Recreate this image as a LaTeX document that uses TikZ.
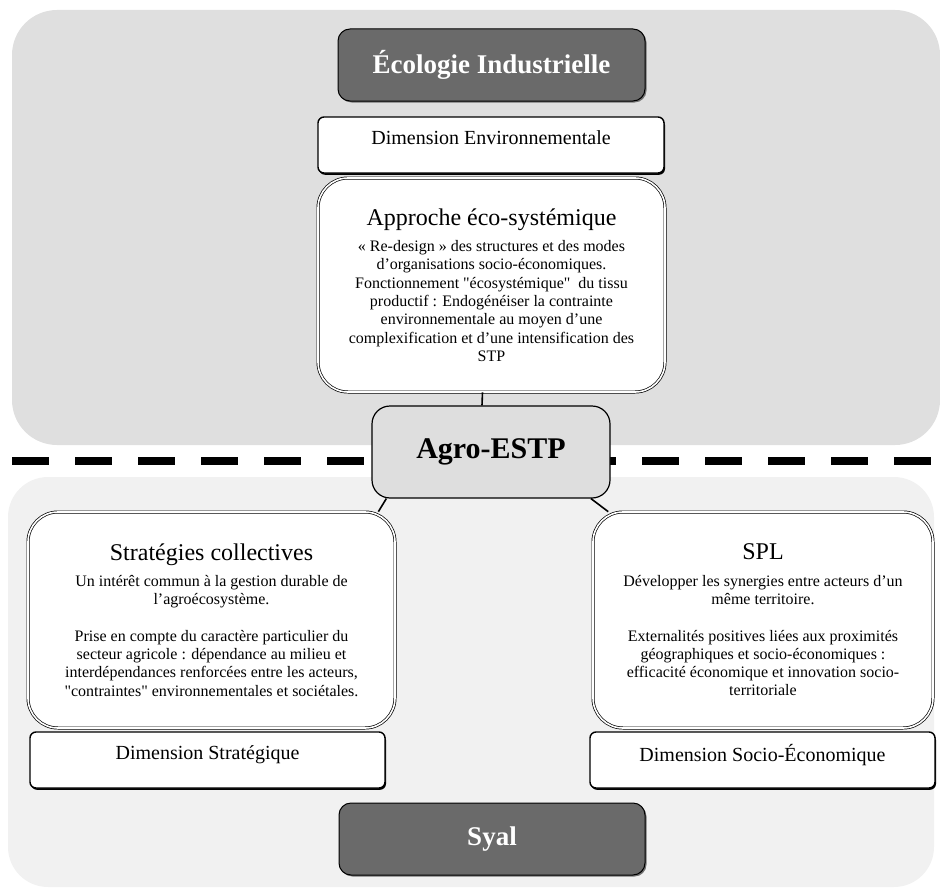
\documentclass[tikz,border=0pt]{standalone}
\usepackage{fontspec}
\setmainfont{Liberation Serif}
\usetikzlibrary{shadows}
\definecolor{zonehaut}{HTML}{DFDFDF}
\definecolor{zonebas}{HTML}{F1F1F1}
\definecolor{grisfonce}{HTML}{6A6A6A}
\definecolor{grisagro}{HTML}{DEDEDE}
\newcommand{\titrefont}{\fontsize{24}{28}\selectfont}
\newcommand{\corpsfont}{\fontsize{16}{18.3}\selectfont}
\newcommand{\dq}{\textquotedbl}
\tikzset{
  pole/.style={draw=black, line width=1pt, fill=grisfonce, rounded corners=12pt,
    text=white, font=\fontsize{27}{30}\selectfont\bfseries,
    minimum width=307pt, minimum height=72pt,
    drop shadow={shadow xshift=1.5pt, shadow yshift=-1.5pt, fill=black!55, opacity=1}},
  dimension/.style={draw=black, line width=1.4pt, fill=white, rounded corners=6pt,
    font=\fontsize{20}{24}\selectfont, minimum height=56pt, text depth=14pt,
    drop shadow={shadow xshift=1pt, shadow yshift=-1.8pt, fill=black, opacity=1}},
  approche/.style={draw=black, double=white, double distance=1.6pt, line width=0.7pt,
    fill=white, rounded corners=30pt, align=center, font=\corpsfont},
  centre/.style={draw=black, line width=1.2pt, fill=grisagro, rounded corners=18pt,
    font=\fontsize{30}{34}\selectfont\bfseries, minimum width=238pt, minimum height=92pt}
}
\begin{document}
\begin{tikzpicture}[x=1pt, y=-1pt]
      \useasboundingbox (0,0) rectangle (940,891);
      % zones de fond
      \fill[zonehaut, rounded corners=45pt] (12,10) rectangle (940,445);
      \fill[zonebas, rounded corners=40pt] (8,477) rectangle (934,887);
      \draw[line width=7.5pt, dash pattern=on 37pt off 26pt] (12,461) -- (940,461);
      % pole haut
      \node[pole] (ecologie) at (491.5,65) {Écologie Industrielle};
      \node[dimension, minimum width=346pt] (dimenv) at (491,145) {Dimension Environnementale};
      \node[approche, minimum width=347pt, minimum height=214pt] (approche) at (491.5,285)
        {{\titrefont Approche éco-systémique}\\[8pt]
         « Re-design » des structures et des modes\\
         d’organisations socio-économiques.\\
         Fonctionnement \dq écosystémique\dq~ du tissu\\
         productif : Endogénéiser la contrainte\\
         environnementale au moyen d’une\\
         complexification et d’une intensification des\\
         STP};
      % centre
      \node[centre] (agro) at (491,452) {Agro-ESTP};
      % pole bas
      \node[approche, minimum width=367pt, minimum height=216pt] (strategies) at (211.5,620)
        {{\titrefont Stratégies collectives}\\[8pt]
         Un intérêt commun à la gestion durable de\\
         l’agroécosystème.\\[18.3pt]
         Prise en compte du caractère particulier du\\
         secteur agricole : dépendance au milieu et\\
         interdépendances renforcées entre les acteurs,\\
         \dq contraintes\dq{} environnementales et sociétales.};
      \node[approche, minimum width=340pt, minimum height=216pt] (spl) at (763,620)
        {{\titrefont SPL}\\[8pt]
         Développer les synergies entre acteurs d’un\\
         même territoire.\\[18.3pt]
         Externalités positives liées aux proximités\\
         géographiques et socio-économiques :\\
         efficacité économique et innovation socio-\\
         territoriale};
      \node[dimension, minimum width=355pt] (dimstrat) at (207.5,760) {Dimension Stratégique};
      \node[dimension, minimum width=345pt] (dimsocio) at (762.5,760) {Dimension Socio-Économique};
      \node[pole, minimum width=306pt] (syal) at (492,839) {Syal};
      % liens
      \begin{scope}[line width=1.6pt]
        \draw ([xshift=-9pt]approche.south) to ([xshift=-9pt]agro.north);
        \draw (agro.204.5) to (strategies.33.5);
        \draw (agro.335.7) to (spl.145);
      \end{scope}
    \end{tikzpicture}
\end{document}
